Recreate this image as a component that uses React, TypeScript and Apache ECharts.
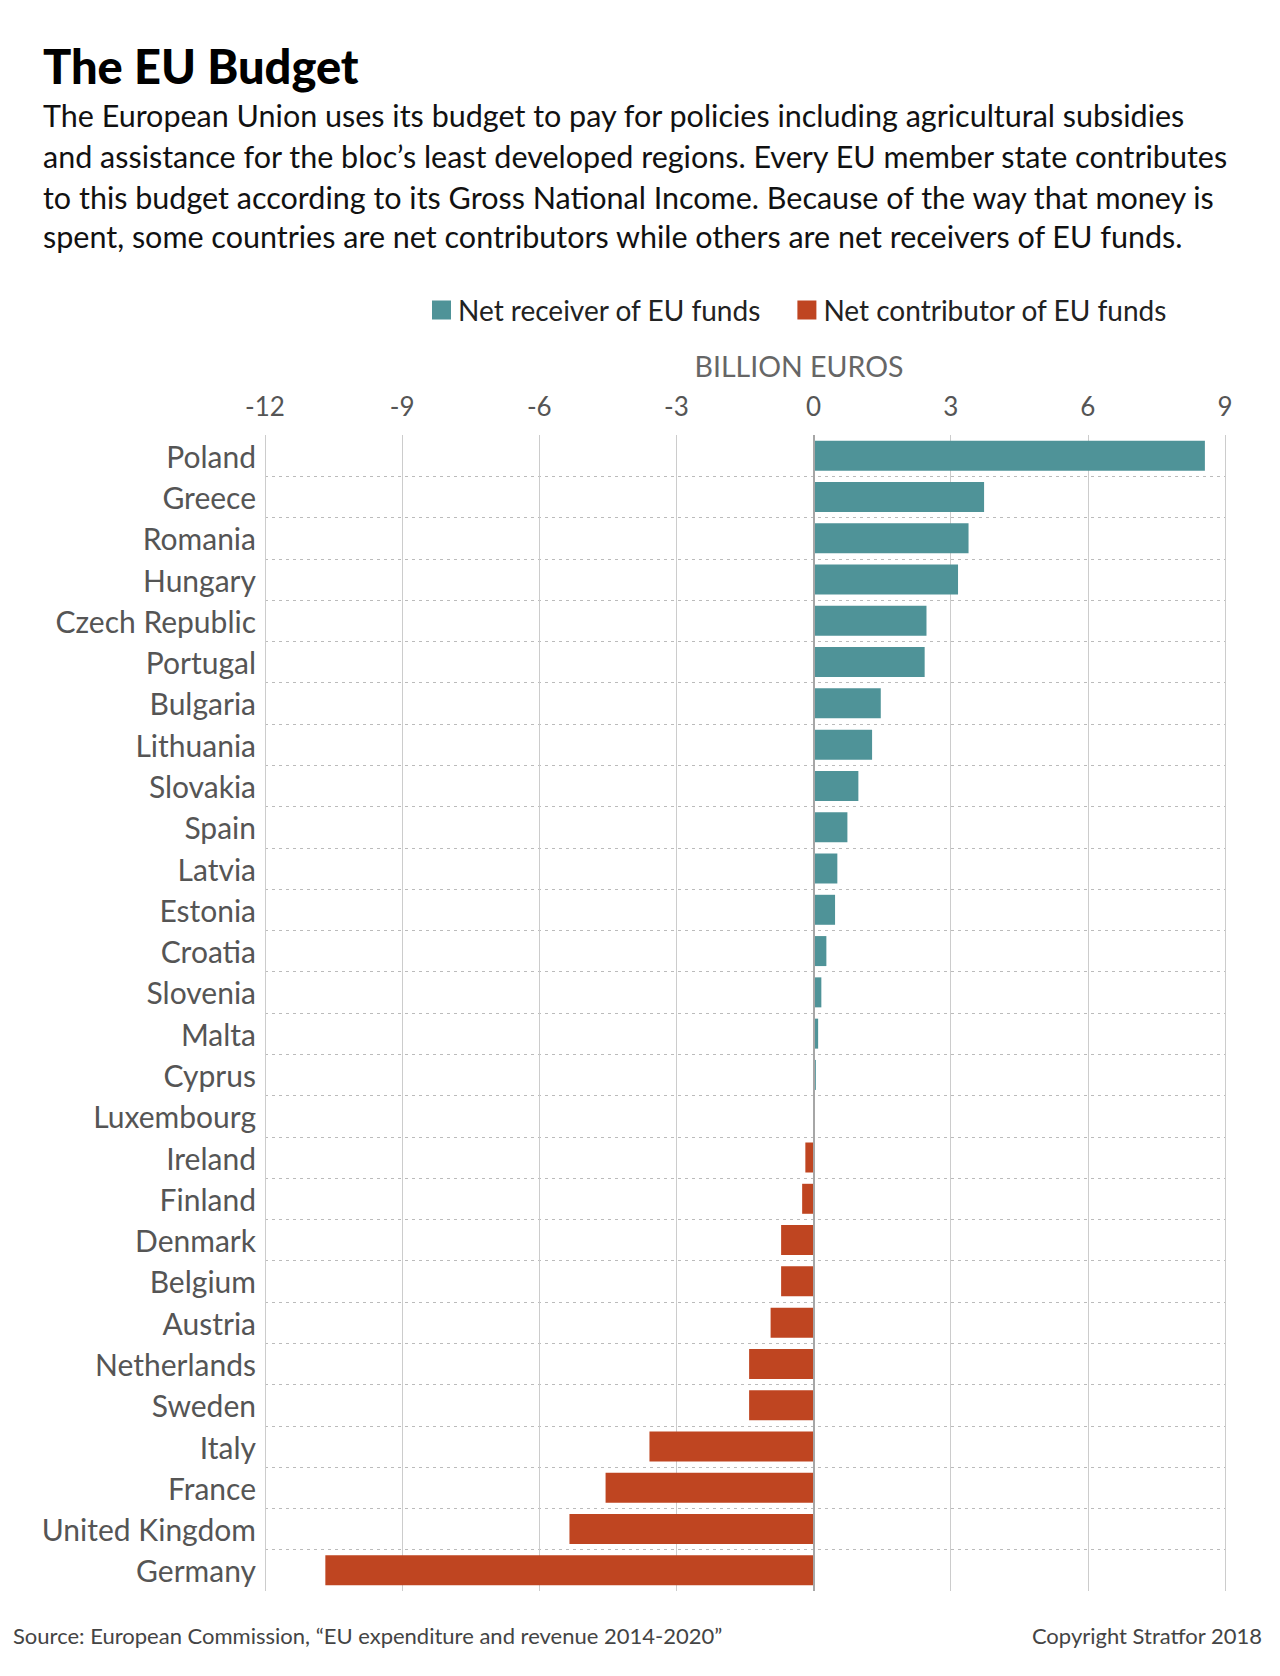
import React, { useEffect, useRef } from "react";
import * as echarts from "echarts";

const countries = [
  "Poland", "Greece", "Romania", "Hungary", "Czech Republic", "Portugal", "Bulgaria",
  "Lithuania", "Slovakia", "Spain", "Latvia", "Estonia", "Croatia", "Slovenia", "Malta",
  "Cyprus", "Luxembourg", "Ireland", "Finland", "Denmark", "Belgium", "Austria",
  "Netherlands", "Sweden", "Italy", "France", "United Kingdom", "Germany",
];

// Net balance with the EU budget, billion euros (positive = net receiver)
const netBalance = [
  8.56, 3.73, 3.39, 3.16, 2.47, 2.43, 1.47, 1.28, 0.98, 0.74, 0.52, 0.47, 0.28, 0.17,
  0.1, 0.05, 0, -0.18, -0.25, -0.71, -0.71, -0.94, -1.41, -1.41, -3.59, -4.55, -5.34, -10.68,
];

const seriesNames = ["Net receiver of EU funds", "Net contributor of EU funds"];
const axisTitle = "BILLION EUROS";
const title = "The EU Budget";
const subtitleLines = [
  "The European Union uses its budget to pay for policies including agricultural subsidies",
  "and assistance for the bloc\u2019s least developed regions. Every EU member state contributes",
  "to this budget according to its Gross National Income. Because of the way that money is",
  "spent, some countries are net contributors while others are net receivers of EU funds.",
];
const sourceText = "Source: European Commission, \u201cEU expenditure and revenue 2014-2020\u201d";
const copyrightText = "Copyright Stratfor 2018";

const TEAL = "#4f9398";
const RED = "#bf4521";
const FONT = "Lato, 'Noto Sans', sans-serif";

export default function App() {
  const ref = useRef<HTMLDivElement>(null);

  useEffect(() => {
    if (!ref.current) return;
    const chart = echarts.init(ref.current, null, { renderer: "svg" });

    const receivers = netBalance.map((v) => (v > 0 ? v : "-"));
    const contributors = netBalance.map((v) => (v < 0 ? v : "-"));

    const subtitleY = [115, 156, 196.5, 236];

    chart.setOption({
      animation: false,
      backgroundColor: "#ffffff",
      textStyle: { fontFamily: FONT },
      grid: { left: 265, right: 55, top: 435, height: 1156, containLabel: false },
      legend: {
        left: 432,
        top: 296,
        padding: 0,
        itemWidth: 19,
        itemHeight: 19,
        itemGap: 36,
        icon: "rect",
        textStyle: { fontSize: 28, color: "#222", fontFamily: FONT, padding: [0, 0, 0, 2] },
        data: seriesNames,
      },
      xAxis: {
        type: "value",
        position: "top",
        min: -12,
        max: 9,
        interval: 3,
        axisLine: { show: false },
        axisTick: { show: false },
        axisLabel: { fontSize: 26, color: "#555", margin: 16, fontFamily: FONT },
        splitLine: { show: true, lineStyle: { color: "#cccccc", width: 1, type: "solid" } },
      },
      yAxis: {
        type: "category",
        inverse: true,
        data: countries,
        axisLine: { show: false },
        axisTick: { show: false },
        axisLabel: { fontSize: 30, color: "#555", margin: 9, fontFamily: FONT },
        splitLine: {
          show: true,
          showMinLine: false,
          showMaxLine: false,
          lineStyle: { color: "#bbbbbb", width: 1, type: [3, 4] },
        },
      },
      series: [
        {
          name: seriesNames[0],
          type: "bar",
          data: receivers,
          barWidth: 30,
          barGap: "-100%",
          itemStyle: { color: TEAL },
          markLine: {
            silent: true,
            symbol: "none",
            label: { show: false },
            lineStyle: { color: "#a6a6a6", width: 2, type: "solid" },
            data: [{ xAxis: 0 }],
          },
        },
        {
          name: seriesNames[1],
          type: "bar",
          data: contributors,
          barWidth: 30,
          barGap: "-100%",
          itemStyle: { color: RED },
        },
      ],
      graphic: [
        {
          type: "text",
          x: 43,
          y: 66,
          style: {
            text: title,
            fontSize: 47,
            fontWeight: 900,
            fill: "#000",
            fontFamily: FONT,
            verticalAlign: "middle",
          },
        },
        ...subtitleLines.map((line, i) => ({
          type: "text",
          x: 43,
          y: subtitleY[i],
          style: {
            text: line,
            fontSize: 30.5,
            fill: "#111",
            fontFamily: FONT,
            verticalAlign: "middle",
          },
        })),
        {
          type: "text",
          x: 799,
          y: 366,
          style: {
            text: axisTitle,
            fontSize: 28.5,
            fill: "#666",
            fontFamily: FONT,
            align: "center",
            verticalAlign: "middle",
          },
        },
        {
          type: "text",
          x: 13,
          y: 1635,
          style: { text: sourceText, fontSize: 22, fill: "#444", fontFamily: FONT, verticalAlign: "middle" },
        },
        {
          type: "text",
          x: 1262,
          y: 1635,
          style: {
            text: copyrightText,
            fontSize: 22,
            fill: "#444",
            fontFamily: FONT,
            align: "right",
            verticalAlign: "middle",
          },
        },
      ],
    });

    return () => chart.dispose();
  }, []);

  return (
    <div
      ref={ref}
      style={{ position: "absolute", left: 0, top: 0, width: 1280, height: 1676, background: "#fff" }}
    />
  );
}
